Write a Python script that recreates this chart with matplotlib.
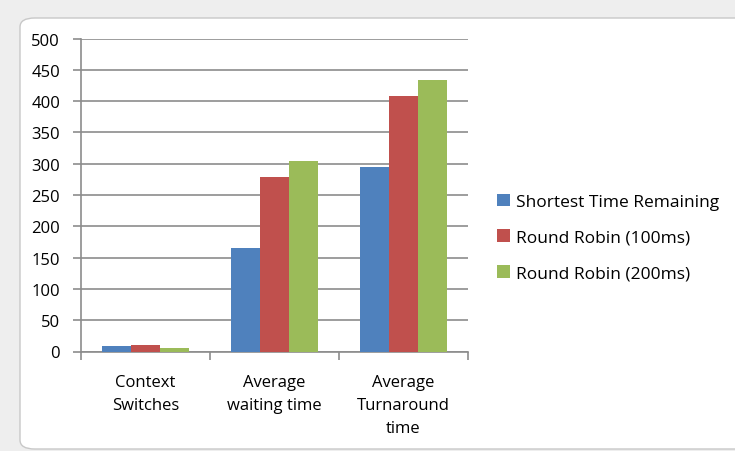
import matplotlib
matplotlib.use('Agg')
import matplotlib.pyplot as plt
from matplotlib.patches import FancyBboxPatch

plt.rcParams['font.family'] = ['Open Sans', 'DejaVu Sans']

# scheduler comparison data
categories = ['Context\nSwitches', 'Average\nwaiting time', 'Average\nTurnaround\ntime']
series_names = ['Shortest Time Remaining', 'Round Robin (100ms)', 'Round Robin (200ms)']
str_vals = [8, 165, 295]
rr100_vals = [10, 278, 408]
rr200_vals = [5, 305, 434]
colors = ['#4F81BD', '#C0504D', '#9BBB59']
yticks = [0, 50, 100, 150, 200, 250, 300, 350, 400, 450, 500]

fig = plt.figure(figsize=(7.35, 4.52), dpi=100)
fig.patch.set_facecolor('#eeeeee')

# white chart area with rounded corner
bg = FancyBboxPatch((20 / 735, 2 / 452), 730 / 735, 431 / 452,
                    boxstyle='round,pad=0,rounding_size=0.02',
                    transform=fig.transFigure, facecolor='white',
                    edgecolor='#c8c8c8', linewidth=1.0, zorder=-1)
fig.patches.append(bg)

ax = fig.add_axes([81 / 735, 1 - 352.5 / 452, (468 - 81) / 735, (352.5 - 39.5) / 452])
ax.set_facecolor('none')

width = 0.225
x = range(len(categories))
for i, (vals, name) in enumerate(zip([str_vals, rr100_vals, rr200_vals], series_names)):
    ax.bar([p + (i - 1) * width for p in x], vals, width, color=colors[i],
           label=name, zorder=3)

ax.set_xlim(-0.5, 2.5)
ax.set_ylim(0, 500)
ax.set_yticks(yticks)
ax.yaxis.grid(True, color='#8c8c8c', linewidth=1.2)
ax.set_axisbelow(True)
for s in ['top', 'right']:
    ax.spines[s].set_visible(False)
ax.spines['left'].set_color('#8c8c8c')
ax.spines['bottom'].set_color('#8c8c8c')
ax.spines['left'].set_linewidth(1.2)
ax.spines['bottom'].set_linewidth(1.2)

ax.tick_params(axis='y', length=6, width=1.2, color='#8c8c8c', pad=9,
               labelsize=12, labelcolor='black')
ax.set_xticks(list(x))
ax.set_xticklabels(categories, fontsize=12, linespacing=1.6, va='top')
ax.tick_params(axis='x', which='major', length=0, pad=16)
ax.set_xticks([-0.5, 0.5, 1.5, 2.5], minor=True)
ax.tick_params(axis='x', which='minor', length=6, width=1.2, color='#8c8c8c')

leg = fig.legend(loc='upper left', bbox_to_anchor=(481 / 735, 1 - 179 / 452),
                 frameon=False, fontsize=12.5, handlelength=0.75, handleheight=0.75,
                 handletextpad=0.35, labelspacing=1.12)

fig.savefig('out.png', dpi=100, facecolor=fig.get_facecolor())
